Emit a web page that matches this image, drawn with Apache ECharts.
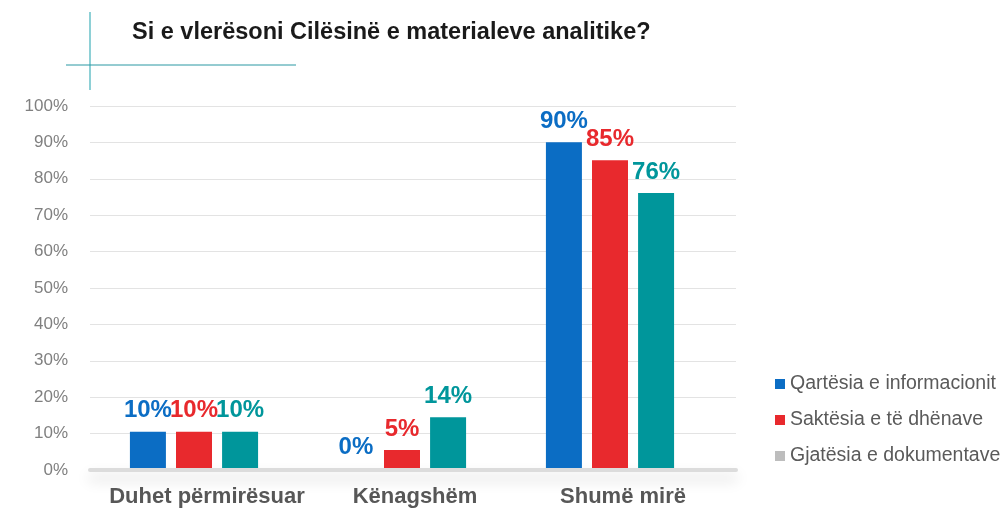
<!DOCTYPE html>
<html>
<head>
<meta charset="utf-8">
<script src="https://cdn.jsdelivr.net/npm/echarts@6/dist/echarts.min.js"></script>
<style>
  html, body { margin: 0; padding: 0; background: #fff; }
  #chart { width: 1002px; height: 508px; }
</style>
</head>
<body>
<div id="chart"></div>
<script>
// data
const categories = ['Duhet përmirësuar', 'Kënagshëm', 'Shumë mirë']
const seriesNames = ['Qartësia e informacionit', 'Saktësia e të dhënave', 'Gjatësia e dokumentave']
const qartesia = [10, 0, 90]
const saktesia = [10, 5, 85]
const gjatesia = [10, 14, 76]
const yTicks = [0, 10, 20, 30, 40, 50, 60, 70, 80, 90, 100]

// colours
const blue = '#0b6dc4'
const red = '#e8292d'
const teal = '#00969b'
const sans = '"Liberation Sans", Arial, sans-serif'

const chart = echarts.init(document.getElementById('chart'))

function barSeries(name, data, color) {
  return {
    name: name,
    type: 'bar',
    xAxisIndex: 1,
    yAxisIndex: 1,
    data: data,
    barWidth: 36,
    barGap: '28%',
    itemStyle: { color: color },
    label: {
      show: true,
      position: 'top',
      distance: 9,
      formatter: '{c}%',
      color: color,
      fontFamily: sans,
      fontWeight: 'bold',
      fontSize: 24
    }
  }
}

chart.setOption({
  backgroundColor: '#fff',
  animation: false,
  title: {
    text: 'Si e vlerësoni Cilësinë e materialeve analitike?',
    left: 127,
    top: 16,
    textStyle: {
      fontFamily: sans,
      fontWeight: 'bold',
      fontSize: 23.5,
      color: '#1a1a1a'
    }
  },
  graphic: [
    { type: 'line', shape: { x1: 90, y1: 12, x2: 90, y2: 90 }, style: { stroke: '#8ed0d6', lineWidth: 2 } },
    { type: 'line', shape: { x1: 66, y1: 65, x2: 296, y2: 65 }, style: { stroke: '#2b98a3', lineWidth: 1 } }
  ],
  legend: {
    orient: 'vertical',
    left: 770,
    top: 369,
    icon: 'rect',
    itemWidth: 10,
    itemHeight: 10,
    itemGap: 16,
    textStyle: { fontFamily: sans, fontSize: 19.5, color: '#5a5a5a' },
    data: [
      { name: seriesNames[0] },
      { name: seriesNames[1] },
      { name: seriesNames[2], itemStyle: { color: '#bdbdbd' } }
    ]
  },
  grid: [
    // background grid: gridlines, y labels and baseline
    { left: 90, right: 266, top: 106, bottom: 38 },
    // bars
    { left: 90, width: 624, top: 106, bottom: 38 }
  ],
  xAxis: [
    {
      gridIndex: 0,
      type: 'category',
      data: categories,
      axisTick: { show: false },
      axisLabel: { show: false },
      axisLine: {
        show: true,
        lineStyle: {
          color: '#dcdcdc',
          width: 4,
          shadowColor: 'rgba(0,0,0,0.18)',
          shadowBlur: 14,
          shadowOffsetY: 8
        }
      }
    },
    {
      gridIndex: 1,
      type: 'category',
      data: categories,
      axisLine: { show: false },
      axisTick: { show: false },
      axisLabel: {
        interval: 0,
        margin: 18,
        padding: [0, 0, 0, 26],
        fontFamily: sans,
        fontWeight: 'bold',
        fontSize: 22,
        color: '#575757'
      }
    }
  ],
  yAxis: [
    {
      gridIndex: 0,
      type: 'value',
      min: yTicks[0],
      max: yTicks[yTicks.length - 1],
      interval: 10,
      axisLine: { show: false },
      axisTick: { show: false },
      axisLabel: {
        margin: 22,
        formatter: '{value}%',
        fontFamily: sans,
        fontSize: 17,
        color: '#808080'
      },
      splitLine: { lineStyle: { color: '#e3e3e3', width: 1 } }
    },
    {
      gridIndex: 1,
      type: 'value',
      min: 0,
      max: 100,
      show: false,
      splitLine: { show: false }
    }
  ],
  series: [
    barSeries(seriesNames[0], qartesia, blue),
    barSeries(seriesNames[1], saktesia, red),
    barSeries(seriesNames[2], gjatesia, teal)
  ]
})
</script>
</body>
</html>
